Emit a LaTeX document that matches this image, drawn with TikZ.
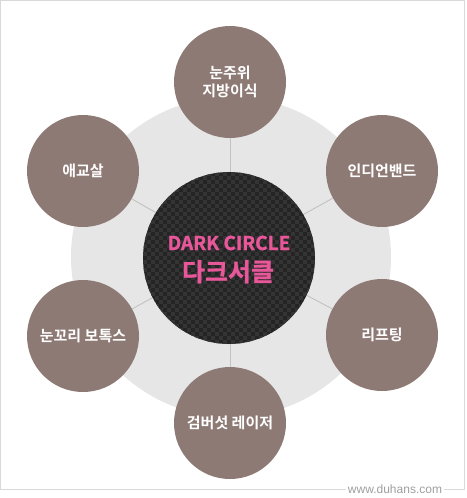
\documentclass[tikz,border=0pt]{standalone}
\usepackage{fontspec}
\newfontfamily\kofont{Noto Sans CJK KR}[BoldFont={Noto Sans CJK KR Bold}]
\newfontfamily\koheavy{Noto Sans CJK KR Bold}[FakeBold=1.2]
\newfontfamily\webfont{Liberation Sans}
\usetikzlibrary{positioning}
\definecolor{ringgray}{HTML}{E6E6E6}
\definecolor{spokegray}{HTML}{C2C2C2}
\definecolor{mauve}{HTML}{8E7A75}
\definecolor{carbon}{HTML}{242424}
\definecolor{carbonlight}{HTML}{343434}
\definecolor{darkpink}{HTML}{E9579B}
\definecolor{framegray}{HTML}{D9D9D9}
\tikzset{
  ring/.style={
    circle, fill=ringgray, minimum size=320pt, inner sep=0pt
  },
  core/.style={
    circle, fill=carbon, minimum size=172pt, inner sep=0pt
  },
  coretext/.style={
    anchor=base, text=darkpink, inner sep=0pt
  },
  treatment/.style={
    circle, fill=mauve, minimum size=112pt, inner sep=0pt,
    align=center, text=white,
    font=\kofont\bfseries\fontsize{15}{18}\selectfont
  },
  spoke/.style={
    draw=spokegray, line width=0.9pt
  },
  frame/.style={
    draw=framegray, line width=1pt
  },
  site/.style={
    fill=white, text=gray!75, inner sep=1.5pt,
    font=\webfont\fontsize{12}{14}\selectfont
  }
}

\begin{document}
\begin{tikzpicture}[x=1pt, y=-1pt]
  \useasboundingbox (0,0) rectangle (466,498);
  \draw[frame] (0.5,0.5) rectangle (464,489);
  \node[ring] (ring) at (231,257) {};
  \coordinate (hub) at (230,255);
  % treatments around the dark circle
  \foreach \name/\pos/\txt in {
      eye-fat/{230,82}/{눈주위\\지방이식},
      indian-band/{382,171}/{인디언밴드},
      lifting/{382,335}/{리프팅},
      laser/{230,423}/{검버섯 레이저},
      botox/{83,336}/{눈꼬리 보톡스},
      aegyo/{83,171}/{애교살}} {
    \node[treatment] (\name) at (\pos) {\txt};
    \draw[spoke] (hub) -- (\name);
  }
  % carbon core
  \node[core] (dark-circle) at (229,258) {};
  \begin{scope}
    \clip (dark-circle.center) circle (86);
    \foreach \i [evaluate=\i as \off using {4*mod(\i,2)}] in {0,...,43}
      \foreach \j in {0,...,21}
        \fill[carbonlight] (143+4*\i, 172+8*\j+\off) rectangle ++(4,4);
  \end{scope}
  \node[coretext, font=\koheavy\fontsize{19}{22}\selectfont] (dark-title) at (229,250) {DARK CIRCLE};
  \node[coretext, font=\koheavy\fontsize{25}{28}\selectfont] (dark-kor) at (228,281) {다크서클};
  \node[site] (site) at (395,489) {www.duhans.com};
\end{tikzpicture}
\end{document}
